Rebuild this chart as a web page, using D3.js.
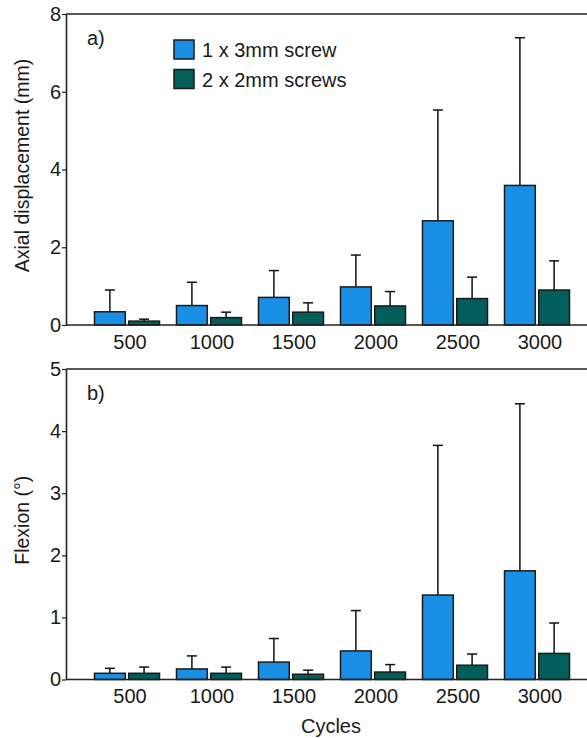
<!DOCTYPE html>
<html>
<head>
<meta charset="utf-8">
<script src="https://cdn.jsdelivr.net/npm/d3@7"></script>
<style>
  body { margin: 0; background: #fff; }
  text { font-family: "Liberation Sans", Arial, sans-serif; fill: #1a1a1a; }
</style>
</head>
<body>
<div id="chart"></div>
<script>
// Data
var cycles = ["500", "1000", "1500", "2000", "2500", "3000"];
var seriesNames = ["1 x 3mm screw", "2 x 2mm screws"];

// a) axial displacement (mm): means and upper error (SD)
var dispOneScrew = [0.34, 0.50, 0.71, 0.98, 2.68, 3.59];
var dispOneScrewSd = [0.56, 0.60, 0.69, 0.82, 2.85, 3.80];
var dispTwoScrews = [0.10, 0.19, 0.33, 0.49, 0.68, 0.90];
var dispTwoScrewsSd = [0.05, 0.14, 0.24, 0.37, 0.55, 0.75];

// b) flexion (deg)
var flexOneScrew = [0.10, 0.17, 0.28, 0.46, 1.36, 1.75];
var flexOneScrewSd = [0.08, 0.21, 0.38, 0.65, 2.41, 2.69];
var flexTwoScrews = [0.10, 0.10, 0.085, 0.12, 0.23, 0.42];
var flexTwoScrewsSd = [0.10, 0.10, 0.065, 0.12, 0.18, 0.49];

var dispTicks = [0, 2, 4, 6, 8];
var flexTicks = [0, 1, 2, 3, 4, 5];

var colors = ["#1a8fe6", "#025e5a"];

var svgWidth = 587;
var svgHeight = 738;

var svg = d3.select("#chart")
  .append("svg")
  .attr("width", svgWidth)
  .attr("height", svgHeight);

var plotLeft = 66;
var plotRight = 587;

// grouped band scales shared by both panels
var x0 = d3.scaleBand()
  .domain(cycles)
  .range([86, 578]);

var x1 = d3.scaleBand()
  .domain(seriesNames)
  .range([8.5, 73.5])
  .paddingInner(0.1);

function drawPanel(opts) {
  var y = d3.scaleLinear()
    .domain([0, opts.max])
    .range([opts.bottom, opts.top]);

  var g = svg.append("g");

  // top border
  g.append("line")
    .attr("x1", plotLeft).attr("x2", plotRight)
    .attr("y1", opts.top).attr("y2", opts.top)
    .attr("stroke", "#222").attr("stroke-width", 1.6);

  // left axis
  var leftAxis = d3.axisLeft(y)
    .tickValues(opts.ticks)
    .tickFormat(d3.format("d"))
    .tickSize(4)
    .tickSizeOuter(0)
    .tickPadding(1);

  var ax = g.append("g")
    .attr("transform", "translate(" + plotLeft + ",0)")
    .call(leftAxis);
  ax.select(".domain").attr("stroke", "#222").attr("stroke-width", 1.6);
  ax.selectAll(".tick line").attr("stroke", "#222").attr("stroke-width", 1.2);
  ax.selectAll(".tick text")
    .style("font-family", "Liberation Sans, Arial, sans-serif")
    .style("font-size", "20px")
    .attr("fill", "#1a1a1a");

  // bars
  var rows = cycles.map(function(c, i) {
    return {
      cycle: c,
      values: opts.series.map(function(s, k) {
        return { name: seriesNames[k], mean: s.mean[i], sd: s.sd[i], color: colors[k] };
      })
    };
  });

  var groups = g.selectAll(".grp")
    .data(rows)
    .enter().append("g")
    .attr("transform", function(d) { return "translate(" + x0(d.cycle) + ",0)"; });

  groups.selectAll("line.err")
    .data(function(d) { return d.values; })
    .enter().append("line")
    .attr("class", "err")
    .attr("x1", function(d) { return x1(d.name) + x1.bandwidth() / 2; })
    .attr("x2", function(d) { return x1(d.name) + x1.bandwidth() / 2; })
    .attr("y1", function(d) { return y(d.mean); })
    .attr("y2", function(d) { return y(d.mean + d.sd); })
    .attr("stroke", "#111").attr("stroke-width", 1.5);

  groups.selectAll("line.cap")
    .data(function(d) { return d.values; })
    .enter().append("line")
    .attr("class", "cap")
    .attr("x1", function(d) { return x1(d.name) + x1.bandwidth() / 2 - 5; })
    .attr("x2", function(d) { return x1(d.name) + x1.bandwidth() / 2 + 5; })
    .attr("y1", function(d) { return y(d.mean + d.sd); })
    .attr("y2", function(d) { return y(d.mean + d.sd); })
    .attr("stroke", "#111").attr("stroke-width", 1.5);

  groups.selectAll("rect")
    .data(function(d) { return d.values; })
    .enter().append("rect")
    .attr("x", function(d) { return x1(d.name); })
    .attr("width", x1.bandwidth())
    .attr("y", function(d) { return y(d.mean); })
    .attr("height", function(d) { return y(0) - y(d.mean); })
    .attr("fill", function(d) { return d.color; })
    .attr("stroke", "#1a1a1a")
    .attr("stroke-width", 1.5);

  // bottom axis line
  g.append("line")
    .attr("x1", plotLeft).attr("x2", plotRight)
    .attr("y1", opts.bottom).attr("y2", opts.bottom)
    .attr("stroke", "#222").attr("stroke-width", 1.6);

  // cycle labels
  g.selectAll(".xlab")
    .data(cycles)
    .enter().append("text")
    .attr("x", function(d) { return x0(d) + x0.bandwidth() / 2 + 3; })
    .attr("y", opts.bottom + 23.5)
    .attr("text-anchor", "middle")
    .style("font-size", "20px")
    .text(function(d) { return d; });

  // panel letter
  g.append("text")
    .attr("x", 87)
    .attr("y", opts.top + 31)
    .style("font-size", "20px")
    .text(opts.letter);

  // y axis title
  g.append("text")
    .attr("transform", "translate(29," + ((opts.top + opts.bottom) / 2 - 4) + ") rotate(-90)")
    .attr("text-anchor", "middle")
    .style("font-size", "19.5px")
    .text(opts.title);

  return y;
}

drawPanel({
  top: 14, bottom: 325, max: 8, ticks: dispTicks,
  letter: "a)", title: "Axial displacement (mm)",
  series: [
    { mean: dispOneScrew, sd: dispOneScrewSd },
    { mean: dispTwoScrews, sd: dispTwoScrewsSd }
  ]
});

drawPanel({
  top: 369, bottom: 679.5, max: 5, ticks: flexTicks,
  letter: "b)", title: "Flexion (\u00b0)",
  series: [
    { mean: flexOneScrew, sd: flexOneScrewSd },
    { mean: flexTwoScrews, sd: flexTwoScrewsSd }
  ]
});

// legend
var legend = svg.append("g");
seriesNames.forEach(function(name, i) {
  legend.append("rect")
    .attr("x", 174)
    .attr("y", 40 + i * 29.5)
    .attr("width", 20)
    .attr("height", 19)
    .attr("fill", colors[i])
    .attr("stroke", "#1a1a1a")
    .attr("stroke-width", 1.5);
  legend.append("text")
    .attr("x", 202)
    .attr("y", 57 + i * 29.5)
    .style("font-size", "20px")
    .text(name);
});

// x axis title
svg.append("text")
  .attr("x", 331)
  .attr("y", 733)
  .attr("text-anchor", "middle")
  .style("font-size", "20px")
  .text("Cycles");
</script>
</body>
</html>
